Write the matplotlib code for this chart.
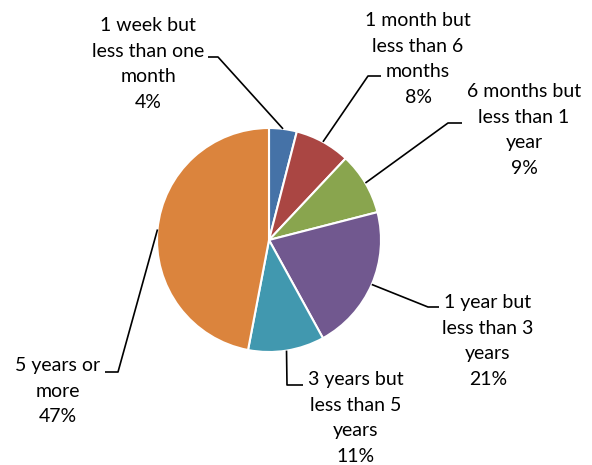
import numpy as np
import matplotlib
matplotlib.use("Agg")
import matplotlib.pyplot as plt

# data
categories = ["1 week but\nless than one\nmonth", "1 month but\nless than 6\nmonths",
              "6 months but\nless than 1\nyear", "1 year but\nless than 3\nyears",
              "3 years but\nless than 5\nyears", "5 years or\nmore"]
shares = [4, 8, 9, 21, 11, 47]
colors = ["#4572A7", "#AA4643", "#89A54E", "#71588F", "#4198AF", "#DB843D"]

# layout in pixel space (y measured from top)
W, H = 592, 465
cx, cy, R = 269, 240, 112
text_pos = [(148, 64), (418, 59), (524, 130), (488, 341), (356, 418), (58, 391)]
elbows = [(218, 57), (368, 76), (448, 123), (428, 307), (287, 385), (118, 372)]
ends = [(208, 57), (381, 76), (462, 123), (439, 307), (303, 385), (105, 372)]

plt.rcParams['font.family'] = ['Lato', 'DejaVu Sans']

fig = plt.figure(figsize=(W / 100, H / 100), dpi=100)
ax = fig.add_axes([0, 0, 1, 1])

wedges, _ = ax.pie(shares, colors=colors, startangle=90, counterclock=False,
                   center=(cx, H - cy), radius=R, frame=True,
                   wedgeprops=dict(edgecolor="white", linewidth=1.5))
ax.set_xlim(0, W)
ax.set_ylim(0, H)
ax.set_aspect("equal")
ax.axis("off")

for w, cat, val, tp, el, en in zip(wedges, categories, shares, text_pos, elbows, ends):
    mid = np.deg2rad((w.theta1 + w.theta2) / 2)
    px = cx + R * np.cos(mid)
    py = (H - cy) + R * np.sin(mid)
    ax.plot([px, el[0], en[0]], [py, H - el[1], H - en[1]], color="black", lw=1.2,
            solid_capstyle="butt")
    ax.text(tp[0], H - tp[1], f"{cat}\n{val}%", ha="center", va="center",
            multialignment="center", fontsize=14, linespacing=1.6, color="black")

fig.savefig("out.png", dpi=100)
